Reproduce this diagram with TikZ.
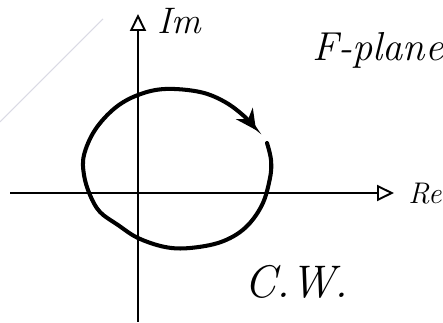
\documentclass[tikz,border=0pt]{standalone}
\usepackage{tikz}
\usetikzlibrary{arrows.meta, positioning}

\begin{document}
\begin{tikzpicture}[x=0.02cm, y=-0.02cm,
    axis/.style={line width=1.1pt, -{Triangle[open, length=3.4mm, width=3.2mm, line width=1.1pt]}},
    loop/.style={line width=2.3pt, line cap=round, -{Stealth[length=4mm, width=4mm]}},
    lbl/.style={inner sep=0pt, font=\itshape}
]
\useasboundingbox (0,0) rectangle (443,323);
% faint guide line
\draw[blue!15!gray!25, line width=0.6pt] (0,122) -- (103,19);

% axes
\coordinate (xl) at (10,193);
\coordinate (xr) at (394,193);
\coordinate (yb) at (138,322);
\coordinate (yt) at (138,14);
\draw[axis] (xl) -- (xr);
\draw[axis] (yb) -- (yt);

% labels
\node[lbl, font=\fontsize{21}{21}\selectfont\itshape, anchor=west] (im) at (157,21) {Im};
\node[lbl, font=\fontsize{17}{17}\selectfont\itshape, anchor=west] (re) at (408,194) {Re};
\node[lbl, font=\fontsize{23}{23}\selectfont\itshape, anchor=west] (fplane) at (312,50) {F-plane};
\node[lbl, font=\fontsize{26}{26}\selectfont\itshape, anchor=west] (cw) at (244,282) {C.W.};

% clockwise contour
\draw[loop] plot[smooth, tension=0.6] coordinates {
    (267,143) (271,160) (270,178) (262,205) (245,228) (221,242) (190,248)
    (165,247) (138,238) (118,225) (100,212) (90,195) (84,175) (84,155)
    (95,130) (115,108) (138,95) (165,89) (200,92) (225,102) (245,117) (256,130)};
\end{tikzpicture}
\end{document}
